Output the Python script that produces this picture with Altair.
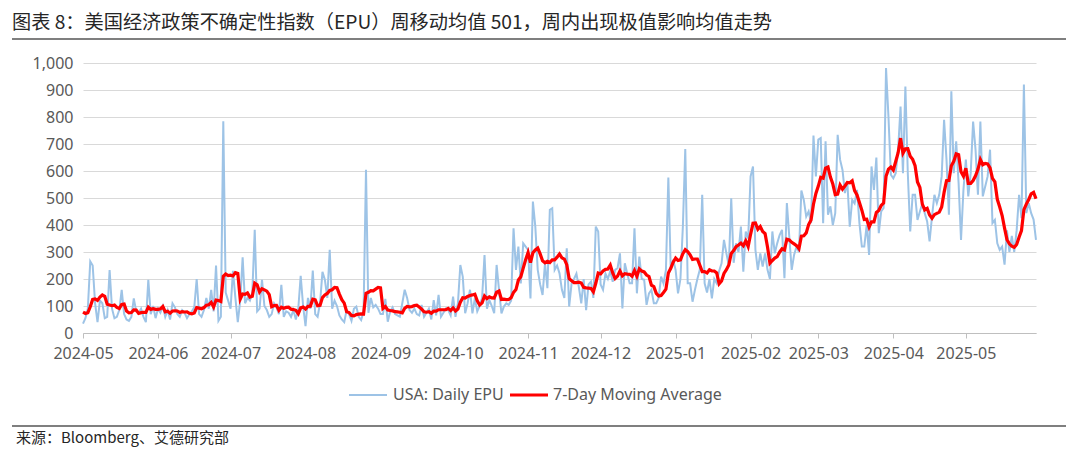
import altair as alt
import pandas as pd

# ---------------- data ----------------
# last days of April 2024 (only needed to start the 7-day average)
apr24_tail = [90, 70, 110, 60, 95, 80]
may24 = [35, 55, 90, 265, 250, 110, 40, 120, 110, 55, 60, 233, 90, 55, 60, 85, 160, 70, 50, 45,
         60, 128, 80, 75, 90, 60, 40, 197, 70, 100, 55]
jun24 = [90, 75, 100, 60, 85, 50, 110, 95, 70, 60, 85, 75, 55, 70, 80, 95, 200, 70, 60, 85,
         130, 90, 160, 80, 250, 45, 60, 784, 150, 120]
jul24 = [90, 230, 130, 40, 120, 280, 110, 130, 120, 150, 382, 80, 90, 197, 100, 85, 60, 70, 110, 95,
         70, 178, 60, 80, 75, 60, 85, 50, 90, 212, 100]
aug24 = [25, 130, 90, 231, 70, 60, 110, 227, 197, 130, 308, 90, 120, 100, 65, 50, 40, 85, 70, 45,
         90, 98, 60, 48, 80, 605, 75, 130, 95, 104, 90]
sep24 = [70, 70, 126, 42, 80, 95, 70, 65, 60, 110, 160, 130, 85, 75, 90, 70, 65, 104, 60, 75,
         90, 50, 122, 65, 141, 60, 75, 90, 85, 65]
oct24 = [135, 60, 110, 252, 209, 73, 110, 160, 73, 128, 80, 100, 130, 289, 90, 122, 100, 73, 252, 160,
         73, 98, 110, 104, 120, 388, 234, 320, 184, 332, 320]
nov24 = [308, 128, 487, 394, 234, 180, 141, 258, 166, 456, 462, 234, 250, 221, 160, 130, 314, 98, 184, 200,
         220, 170, 110, 200, 85, 180, 190, 130, 394, 376]
dec24 = [180, 160, 220, 200, 230, 190, 234, 240, 295, 91, 258, 220, 184, 184, 388, 147, 283, 200, 197, 104,
         147, 160, 110, 110, 130, 209, 184, 234, 576, 234, 271]
jan25 = [234, 147, 200, 394, 681, 184, 184, 116, 160, 200, 234, 512, 184, 150, 200, 128, 200, 184, 230, 258,
         345, 295, 250, 499, 260, 332, 300, 394, 227, 376, 350]
feb25 = [580, 617, 308, 234, 295, 246, 295, 234, 200, 376, 295, 332, 363, 382, 203, 481, 357, 234, 290, 320,
         300, 528, 493, 431, 450, 407, 731, 580]
mar25 = [716, 722, 407, 710, 438, 469, 400, 444, 734, 642, 604, 518, 560, 394, 493, 480, 530, 407, 320, 320,
         400, 289, 617, 530, 650, 370, 450, 463, 981, 802, 586]
apr25 = [573, 592, 679, 839, 592, 913, 592, 376, 512, 512, 419, 450, 480, 444, 413, 339, 431, 512, 481, 512,
         580, 790, 642, 438, 895, 592, 710, 556, 345, 530]
may25 = [642, 506, 592, 783, 679, 512, 783, 506, 543, 580, 679, 407, 419, 332, 308, 320, 253, 380, 300, 360,
         300, 380, 512, 425, 920, 444, 481, 444, 420, 345]

y_ticks = [0, 100, 200, 300, 400, 500, 600, 700, 800, 900, 1000]
series_names = ["USA: Daily EPU", "7-Day Moving Average"]
TITLE = "图表 8：美国经济政策不确定性指数（EPU）周移动均值 501，周内出现极值影响均值走势"
SOURCE = "来源：Bloomberg、艾德研究部"

daily = (apr24_tail + may24 + jun24 + jul24 + aug24 + sep24 + oct24 + nov24 + dec24
         + jan25 + feb25 + mar25 + apr25 + may25)
dates = pd.date_range("2024-04-25", periods=len(daily), freq="D")
df = pd.DataFrame({"date": dates, "epu": daily})
df["ma7"] = df["epu"].rolling(7).mean()
df = df[df["date"] >= pd.Timestamp("2024-05-01")].reset_index(drop=True)

# ---------------- layout ----------------
W, H = 953, 270
OX, OY = 83, 63          # page position of the plot origin
BLUE = "#9DC3E6"
RED = "#FF0000"
LBL = "Noto Sans"
CJK = "Noto Sans CJK SC"

x_scale = alt.Scale(domain=[alt.DateTime(year=2024, month=5, date=1),
                            alt.DateTime(year=2025, month=5, date=30)])
x_axis = alt.Axis(format="%Y-%m", tickCount={"interval": "month", "step": 1}, grid=False,
                  domainColor="#bfbfbf", tickColor="#bfbfbf", tickSize=5, domainWidth=1,
                  labelFont=LBL, labelFontSize=16, labelColor="#595959", labelPadding=7,
                  labelOverlap=False, labelFlush=False, title=None)
y_scale = alt.Scale(domain=[0, 1000])
y_axis = alt.Axis(values=y_ticks, format=",.0f", grid=True, gridColor="#d9d9d9", gridWidth=1,
                  domain=False, ticks=False, labelFont=LBL, labelFontSize=16, labelOverlap=False,
                  labelColor="#595959", labelPadding=10, title=None)

base = alt.Chart(df)
blue = base.mark_line(color=BLUE, strokeWidth=2).encode(
    x=alt.X("date:T", scale=x_scale, axis=x_axis),
    y=alt.Y("epu:Q", scale=y_scale, axis=y_axis))
red = base.mark_line(color=RED, strokeWidth=3.2).encode(
    x=alt.X("date:T", scale=x_scale, axis=x_axis),
    y=alt.Y("ma7:Q", scale=y_scale, axis=y_axis))

one = pd.DataFrame({"k": [0]})
def px(v):
    return alt.value(v - OX)
def py(v):
    return alt.value(v - OY)

title = alt.Chart(one).mark_text(text=TITLE, align="left", baseline="middle", fontSize=19.2,
                                 font=CJK, color="#262626").encode(x=px(12), y=py(23))
title_rule = alt.Chart(one).mark_rule(color="#7f7f7f", strokeWidth=2).encode(
    x=px(12), x2=px(1068), y=py(39))
bottom_rule = alt.Chart(one).mark_rule(color="#7f7f7f", strokeWidth=2).encode(
    x=px(12), x2=px(1068), y=py(426))
source = alt.Chart(one).mark_text(text=SOURCE, align="left", baseline="middle", fontSize=15,
                                  font=CJK, color="#262626").encode(x=px(16), y=py(438))

leg_blue = alt.Chart(one).mark_rule(color=BLUE, strokeWidth=2).encode(
    x=px(349), x2=px(387), y=py(395))
leg_blue_t = alt.Chart(one).mark_text(text=series_names[0], align="left", baseline="middle",
                                      fontSize=16, font=LBL, color="#595959").encode(x=px(393), y=py(395))
leg_red = alt.Chart(one).mark_rule(color=RED, strokeWidth=3.2).encode(
    x=px(510), x2=px(548), y=py(395))
leg_red_t = alt.Chart(one).mark_text(text=series_names[1], align="left", baseline="middle",
                                     fontSize=16, font=LBL, color="#595959").encode(x=px(553), y=py(395))

chart = alt.layer(
    blue, red, title, title_rule, bottom_rule, source,
    leg_blue, leg_blue_t, leg_red, leg_red_t,
).properties(
    width=W, height=H,
    padding={"left": OX - 8, "top": OY - 8, "right": 30, "bottom": 115},
    autosize=alt.AutoSizeParams(type="none"),
    background="white",
).configure_view(strokeWidth=0)

chart.save("out.html", embed_options={"renderer": "svg", "actions": False})
